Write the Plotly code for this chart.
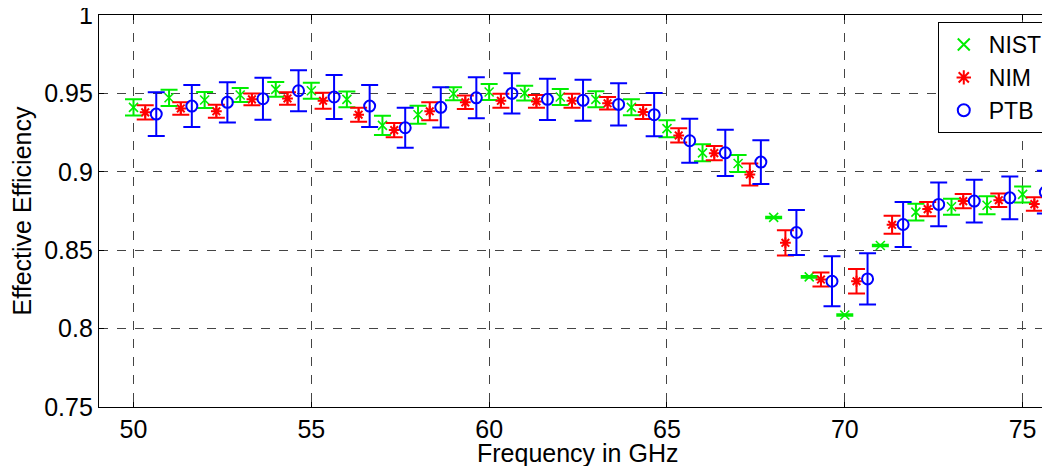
import plotly.graph_objects as go

freq_ghz = list(range(50, 76))

nist_eff = [0.9411, 0.9472, 0.9458, 0.9490, 0.9526, 0.9517, 0.9462, 0.9296, 0.9364, 0.9498,
            0.9509, 0.9502, 0.9477, 0.9462, 0.9411, 0.9275, 0.9121, 0.9053, 0.8709, 0.8330,
            0.8087, 0.8530, 0.8743, 0.8777, 0.8787, 0.8856]
nist_unc = [0.0052, 0.0052, 0.0051, 0.0045, 0.0047, 0.0051, 0.0050, 0.0061, 0.0057, 0.0041,
            0.0051, 0.0047, 0.0051, 0.0051, 0.0051, 0.0054, 0.0054, 0.0054, 0.0005, 0.0005,
            0.0005, 0.0005, 0.0053, 0.0051, 0.0057, 0.0051]

nim_eff = [0.9379, 0.9404, 0.9386, 0.9462, 0.9468, 0.9453, 0.9364, 0.9266, 0.9386, 0.9443,
           0.9453, 0.9449, 0.9453, 0.9437, 0.9381, 0.9232, 0.9119, 0.8983, 0.8547, 0.8313,
           0.8302, 0.8662, 0.8762, 0.8813, 0.8819, 0.8794]
nim_unc = [0.0045, 0.0040, 0.0041, 0.0038, 0.0040, 0.0051, 0.0045, 0.0045, 0.0057, 0.0043,
           0.0045, 0.0041, 0.0045, 0.0040, 0.0045, 0.0045, 0.0045, 0.0070, 0.0081, 0.0045,
           0.0078, 0.0057, 0.0045, 0.0045, 0.0043, 0.0043]

ptb_eff = [0.9368, 0.9419, 0.9443, 0.9466, 0.9517, 0.9477, 0.9419, 0.9281, 0.9411, 0.9472,
           0.9500, 0.9462, 0.9456, 0.9430, 0.9364, 0.9198, 0.9121, 0.9062, 0.8613, 0.8302,
           0.8317, 0.8664, 0.8792, 0.8813, 0.8834, 0.8870]
ptb_unc = [0.0140, 0.0134, 0.0128, 0.0134, 0.0131, 0.0140, 0.0134, 0.0128, 0.0128, 0.0131,
           0.0128, 0.0131, 0.0131, 0.0134, 0.0138, 0.0140, 0.0147, 0.0140, 0.0144, 0.0160,
           0.0163, 0.0144, 0.0140, 0.0137, 0.0136, 0.0136]

x_ticks = [50, 55, 60, 65, 70, 75]
y_ticks = [0.75, 0.8, 0.85, 0.9, 0.95, 1.0]
y_tick_text = ["0.75", "0.8", "0.85", "0.9", "0.95", "1"]
x_title = "Frequency in GHz"
y_title = "Effective Efficiency"

FONT = "Liberation Sans, Arial, Helvetica, sans-serif"

series = [
    ("NIST", nist_eff, nist_unc, 0.0, "#00ee00", "x-thin-open", 9, 1.6),
    ("NIM", nim_eff, nim_unc, 0.33, "#ff0000", "asterisk-open", 9, 2),
    ("PTB", ptb_eff, ptb_unc, 0.64, "#0000ff", "circle-open", 11, 2),
]

fig = go.Figure()
for name, vals, unc, off, col, sym, size, lw in series:
    fig.add_trace(go.Scatter(
        x=[f + off for f in freq_ghz], y=vals, name=name, mode="markers",
        marker=dict(symbol=sym, size=size, color=col, line=dict(color=col, width=lw)),
        error_y=dict(type="data", array=unc, visible=True, color=col, thickness=2, width=8.5),
    ))

axis_common = dict(
    showline=True, linecolor="black", linewidth=1.3, mirror="ticks",
    ticks="inside", ticklen=5, tickcolor="black", tickwidth=1,
    showgrid=True, gridcolor="#444444", gridwidth=1, griddash="dash",
    zeroline=False, automargin=False, ticklabeloverflow="allow",
    tickfont=dict(family=FONT, size=25, color="black"),
    title_font=dict(family=FONT, size=25, color="black"),
)

fig.update_layout(
    width=1050, height=466,
    margin=dict(l=91, r=8, t=7, b=67),
    paper_bgcolor="white", plot_bgcolor="white",
    font=dict(family=FONT, size=25, color="black"),
    xaxis=dict(range=[49.03, 75.77], tickvals=x_ticks, **axis_common),
    yaxis=dict(range=[0.75, 1.0], tickvals=y_ticks, ticktext=y_tick_text,
               title=dict(text=y_title, standoff=6), **axis_common),
    legend=dict(x=0.882, y=0.982, xanchor="left", yanchor="top",
                bgcolor="white", bordercolor="black", borderwidth=1,
                font=dict(family=FONT, size=23, color="black"),
                tracegroupgap=0, itemsizing="constant", itemwidth=40),
    showlegend=True,
)

fig.add_annotation(
    text=x_title, xref="paper", yref="paper", x=0.503, y=0,
    xanchor="center", yanchor="middle", yshift=-46, showarrow=False,
    font=dict(family=FONT, size=25, color="black"),
)

fig.write_html("out.html")
